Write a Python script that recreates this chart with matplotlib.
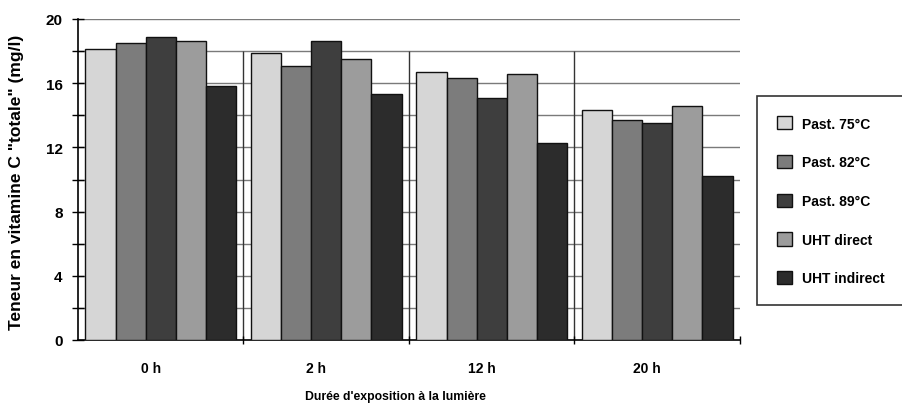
import numpy as np
import matplotlib
matplotlib.use("Agg")
from matplotlib import pyplot as plt
from matplotlib.ticker import MultipleLocator

# durations of light exposure
durations = ["0 h", "2 h", "12 h", "20 h"]
series_names = ["Past. 75°C", "Past. 82°C", "Past. 89°C", "UHT direct", "UHT indirect"]

past_75 = [18.1, 17.9, 16.7, 14.3]
past_82 = [18.5, 17.1, 16.3, 13.7]
past_89 = [18.85, 18.6, 15.1, 13.5]
uht_direct = [18.65, 17.5, 16.6, 14.6]
uht_indirect = [15.8, 15.3, 12.3, 10.2]

y_ticks = [0, 4, 8, 12, 16, 20]

series = [past_75, past_82, past_89, uht_direct, uht_indirect]
colors = ["#d6d6d6", "#7c7c7c", "#3e3e3e", "#9c9c9c", "#2c2c2c"]

plt.rcParams["font.family"] = ["Liberation Sans", "DejaVu Sans"]
plt.rcParams["font.weight"] = "bold"

fig = plt.figure(figsize=(9.03, 4.10), dpi=100)
ax = fig.add_axes([78 / 903, 69 / 410, 662 / 903, 321 / 410])

x = np.arange(len(durations))
bar_w = 0.182
handles = []
for i, (vals, col, name) in enumerate(zip(series, colors, series_names)):
    offs = (i - 2) * bar_w
    h = ax.bar(x + offs, vals, width=bar_w, color=col, edgecolor="#111111",
               linewidth=1.0, label=name, zorder=3)
    handles.append(h)

# gridlines every 2 units, behind the bars
for yv in np.arange(2, 21, 2):
    ax.axhline(yv, color="#7a7a7a", linewidth=1.0, zorder=1)
# group separators
for xv in [0.5, 1.5, 2.5]:
    ax.vlines(xv, 0, 18, color="#333333", linewidth=1.0, zorder=1)

ax.set_xlim(-0.5, 3.5)
ax.set_ylim(0, 20)
ax.set_yticks(y_ticks)
ax.yaxis.set_minor_locator(MultipleLocator(2))
ax.tick_params(axis="y", which="both", direction="inout", length=8, width=1.0,
               labelsize=11, pad=7)
ax.set_xticks([0.5, 1.5, 2.5, 3.5])
ax.set_xticklabels([])
ax.tick_params(axis="x", direction="inout", length=6, width=1.0)
for xi, lab in zip(x, durations):
    ax.text(xi - 0.06, -1.75, lab, ha="center", va="center", fontsize=10,
            fontweight="bold")

for s in ["top", "right"]:
    ax.spines[s].set_visible(False)
ax.spines["left"].set_linewidth(1.2)
ax.spines["bottom"].set_linewidth(1.2)

fig.text(17 / 903, 1 - 182 / 410, "Teneur en vitamine C \"totale\" (mg/l)",
         rotation=90, ha="center", va="center", fontsize=12.5,
         fontweight="bold")
fig.text(395 / 903, 1 - 397 / 410, "Durée d'exposition à la lumière",
         ha="center", va="center", fontsize=8.8, fontweight="bold")

leg = fig.legend(handles=handles, loc="upper left",
                 bbox_to_anchor=(757 / 903, 1 - 97 / 410), fontsize=10,
                 frameon=True, fancybox=False, handlelength=1.1,
                 handleheight=1.1, labelspacing=1.75, borderpad=1.45,
                 handletextpad=0.7, borderaxespad=0)
leg.get_frame().set_edgecolor("black")
leg.get_frame().set_linewidth(1.2)
for t in leg.get_texts():
    t.set_fontweight("bold")

fig.savefig("out.png", dpi=100)
